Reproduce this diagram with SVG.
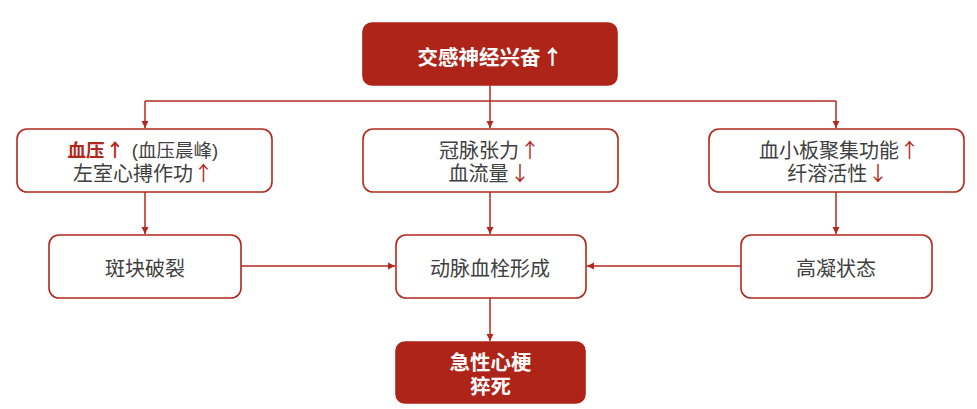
<svg xmlns="http://www.w3.org/2000/svg" width="977" height="409" viewBox="0 0 977 409">
<defs>
<marker id="ah" markerWidth="8" markerHeight="8" refX="7" refY="4" orient="auto" markerUnits="userSpaceOnUse">
<path d="M0,0.5 L7,4 L0,7.5 Z" fill="#B2281D"/>
</marker>
<style>
.box{fill:#fff;stroke:#B2281D;stroke-width:1.6}
.dark{fill:#AF2418;stroke:#AF2418;stroke-width:1.6}
.t{font-family:"Liberation Sans","Noto Sans CJK SC",sans-serif;font-size:20px;fill:#404040;text-anchor:middle}
.s{font-size:18.5px}
.w{font-family:"Liberation Sans","Noto Sans CJK SC",sans-serif;font-size:20.5px;font-weight:bold;fill:#fff;text-anchor:middle}
.a{font-family:Roboto,"Noto Sans CJK SC",sans-serif}
.r{fill:#B2281D}
.rb{fill:#B2281D;font-weight:bold}
.c{fill:none;stroke:#B2281D;stroke-width:1.5}
</style>
</defs>
<rect width="977" height="409" fill="#fff"/>
<g id="connectors">
<line class="c" x1="490" y1="85" x2="490" y2="101"/>
<line class="c" x1="145" y1="101" x2="836" y2="101"/>
<line class="c" x1="145" y1="101" x2="145" y2="128" marker-end="url(#ah)"/>
<line class="c" x1="490" y1="101" x2="490" y2="128" marker-end="url(#ah)"/>
<line class="c" x1="836" y1="101" x2="836" y2="128" marker-end="url(#ah)"/>
<line class="c" x1="145" y1="192" x2="145" y2="234" marker-end="url(#ah)"/>
<line class="c" x1="490" y1="192" x2="490" y2="234" marker-end="url(#ah)"/>
<line class="c" x1="836" y1="192" x2="836" y2="234" marker-end="url(#ah)"/>
<line class="c" x1="241" y1="266" x2="395" y2="266" marker-end="url(#ah)"/>
<line class="c" x1="741" y1="266" x2="587" y2="266" marker-end="url(#ah)"/>
<line class="c" x1="490" y1="298" x2="490" y2="341" marker-end="url(#ah)"/>
</g>
<g id="n-top">
<rect class="dark" x="363" y="23" width="254" height="62" rx="9"/>
<text class="w" x="479" y="65">交感神经兴奋</text>
<text class="w a" x="552.5" y="65">↑</text>
</g>
<g id="n-bp">
<rect class="box" x="17" y="129" width="255" height="63" rx="10"/>
<text class="t s rb" x="86" y="157">血压</text>
<text class="t s rb a" x="115" y="157">↑</text>
<text class="t s" x="175" y="157">(血压晨峰)</text>
<text class="t" x="133" y="180.5">左室心搏作功</text>
<text class="t r a" x="203.5" y="180.5">↑</text>
</g>
<g id="n-coronary">
<rect class="box" x="363" y="129" width="255" height="63" rx="10"/>
<text class="t" x="479" y="157.5">冠脉张力</text>
<text class="t r a" x="530" y="157.5">↑</text>
<text class="t" x="478.5" y="181.2">血流量</text>
<text class="t r a" x="520" y="181.2">↓</text>
</g>
<g id="n-platelet">
<rect class="box" x="709" y="129" width="255" height="63" rx="10"/>
<text class="t" x="829" y="157.5">血小板聚集功能</text>
<text class="t r a" x="909.5" y="157.5">↑</text>
<text class="t" x="827.3" y="181.2">纤溶活性</text>
<text class="t r a" x="878" y="181.2">↓</text>
</g>
<g id="n-plaque">
<rect class="box" x="49" y="235" width="192" height="63" rx="10"/>
<text class="t" x="145" y="275.5">斑块破裂</text>
</g>
<g id="n-thrombus">
<rect class="box" x="396" y="235" width="190" height="63" rx="10"/>
<text class="t" x="490" y="275.5">动脉血栓形成</text>
</g>
<g id="n-hyper">
<rect class="box" x="741" y="235" width="191" height="63" rx="10"/>
<text class="t" x="836" y="275.5">高凝状态</text>
</g>
<g id="n-ami">
<rect class="dark" x="396" y="342" width="189" height="61" rx="9"/>
<text class="w" x="490.5" y="370">急性心梗</text>
<text class="w" x="490.5" y="393.5">猝死</text>
</g>
</svg>
